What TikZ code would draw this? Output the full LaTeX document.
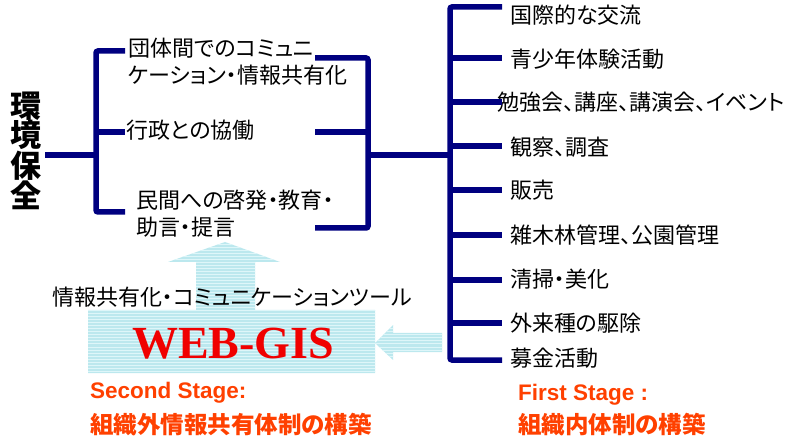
\documentclass[tikz,border=0pt]{standalone}
\usepackage{fontspec}
\setmainfont{Liberation Sans}
\newfontfamily\jp{Noto Sans CJK JP}[RawFeature={+palt}]
\newfontfamily\webfont{Liberation Serif}
\definecolor{lineblue}{RGB}{0,0,128}
\definecolor{stagered}{RGB}{255,64,0}
\definecolor{webred}{RGB}{240,0,0}
\definecolor{cyanbase}{RGB}{188,232,238}
\definecolor{cyanstripe}{RGB}{222,246,249}
\begin{document}
\begin{tikzpicture}[x=1pt,y=-1pt,
  txt/.style={inner sep=0pt,anchor=west,align=left,font=\jp\fontsize{22}{27}\selectfont},
  roottxt/.style={inner sep=0pt,align=center,font=\jp\bfseries\fontsize{31}{29.5}\selectfont},
  stagetxt/.style={inner sep=0pt,anchor=west,align=left,text=stagered,font=\bfseries\fontsize{22.5}{32}\selectfont},
  stagejp/.style={inner sep=0pt,anchor=west,text=stagered,font=\jp\bfseries\fontsize{23.5}{27}\selectfont},
  conn/.style={draw=lineblue,line width=5.5pt,rounded corners=2pt,line cap=butt}]
\useasboundingbox (0,0) rectangle (808,443);

% striped shapes (WEB-GIS box with up arrow, and left arrow)
\begin{scope}
  \clip (88,310) -- (196,310) -- (196,262) -- (168,262) -- (225,242) -- (280,262) -- (255,262) -- (255,310) -- (375,310) -- (375,373) -- (88,373) -- cycle
        (442,333) -- (393,333) -- (393,325) -- (375,343) -- (393,360) -- (393,352) -- (442,352) -- cycle;
  \fill[cyanbase] (80,235) rectangle (450,380);
  \foreach \yy in {242,245,...,375} \draw[cyanstripe,line width=1pt] (80,\yy) -- (450,\yy);
\end{scope}

% root
\node[roottxt] (root) at (26,151) {環\\境\\保\\全};

% first level
\node[txt] (a1) at (128,61.5) {団体間でのコミュニ\\ケーション・情報共有化};
\node[txt] (a2) at (126,130) {行政との協働};
\node[txt] (a3) at (136,214) {民間への啓発・教育・\\助言・提言};

% activities
\node[txt] (b1) at (510,15) {国際的な交流};
\node[txt] (b2) at (510,59) {青少年体験活動};
\node[txt] (b3) at (497,102) {勉強会、講座、講演会、イベント};
\node[txt] (b4) at (510,147) {観察、調査};
\node[txt] (b5) at (510,190) {販売};
\node[txt] (b6) at (510,235) {雑木林管理、公園管理};
\node[txt] (b7) at (510,279) {清掃・美化};
\node[txt] (b8) at (510,323) {外来種の駆除};
\node[txt] (b9) at (510,358) {募金活動};

% coordinates of the brackets
\coordinate (r0) at (45,155);
\coordinate (lj) at (96,155);
\coordinate (lt) at (96,51);
\coordinate (lb) at (96,212);
\coordinate (lm) at (96,132);
\coordinate (la1) at (125,51);
\coordinate (la2) at (125,132);
\coordinate (la3) at (125,212);
\coordinate (ra1) at (315,58);
\coordinate (ra2) at (315,132);
\coordinate (ra3) at (315,228);
\coordinate (rt) at (368,58);
\coordinate (rm) at (368,132);
\coordinate (rb) at (368,228);
\coordinate (rj) at (368,155);
\coordinate (bj) at (450,155);
\coordinate (bt) at (450,7);
\coordinate (bb) at (450,360);
\foreach \i/\yy in {1/7,2/58,3/102,4/146,5/190,6/235,7/280,8/323,9/360}{
  \coordinate (bs\i) at (450,\yy);
  \coordinate (be\i) at (502,\yy);
}

% connectors
\draw[conn] (r0) -- (lj);
\draw[conn] (la1) -- (lt) -- (lb) -- (la3);
\draw[conn] (lm) -- (la2);
\draw[conn] (ra1) -- (rt) -- (rb) -- (ra3);
\draw[conn] (ra2) -- (rm);
\draw[conn] (rj) -- (bj);
\draw[conn] (be1) -- (bt) -- (bb) -- (be9);
\foreach \i in {2,...,8} \draw[conn] (bs\i) -- (be\i);

% tool text and WEB-GIS
\node[txt,anchor=center] (tool) at (232,297) {情報共有化・コミュニケーションツール};
\node[inner sep=0pt,text=webred,font=\webfont\bfseries\fontsize{46}{50}\selectfont] (web) at (233,344) {WEB-GIS};

% stages
\node[stagetxt] (s2) at (90,393) {Second Stage:};
\node[stagejp] (s2j) at (90,425) {組織外情報共有体制の構築};
\node[stagetxt] (s1) at (518,395) {First Stage :};
\node[stagejp] (s1j) at (518,425) {組織内体制の構築};
\end{tikzpicture}
\end{document}
